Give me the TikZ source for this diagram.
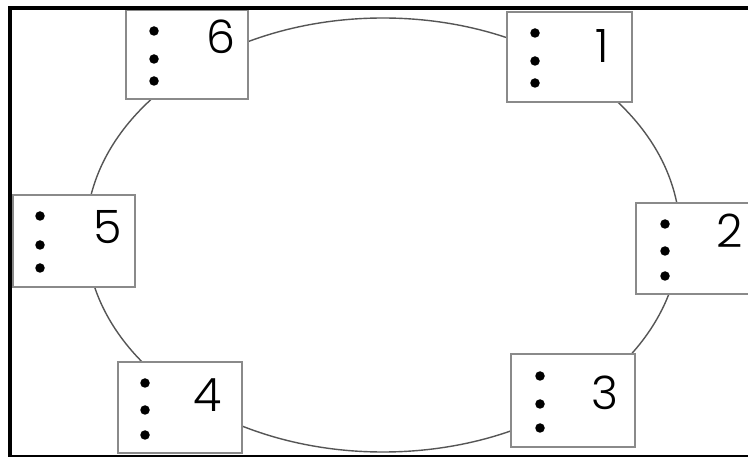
\documentclass[tikz,border=0pt]{standalone}
\usepackage{fontspec}
\newfontfamily\numfont{Poppins}[UprightFont=* Light]
\definecolor{boxgray}{HTML}{8A8A8A}
\definecolor{ringgray}{HTML}{555555}
\tikzset{
  station/.style={draw=boxgray, line width=2pt, fill=white, rectangle, inner sep=0pt},
  dotmark/.style={circle, fill=black, inner sep=0pt, minimum size=9.5pt},
  numlabel/.style={inner sep=0pt, font=\numfont\fontsize{46}{46}\selectfont}
}
\begin{document}
\begin{tikzpicture}[x=1pt,y=-1pt]
\useasboundingbox (0,0) rectangle (748,457);
\clip (0,0) rectangle (748,457);
\fill[white] (0,0) rectangle (748,457);
% ring
\draw[ringgray, line width=1.4pt] (383,235) ellipse [x radius=297, y radius=217];
% stations
\node[station, minimum width=122pt, minimum height=89pt] (s6) at (187,54.5) {};
\node[station, minimum width=125pt, minimum height=90pt] (s1) at (569.5,57) {};
\node[station, minimum width=124pt, minimum height=91pt] (s2) at (698,248.5) {};
\node[station, minimum width=124pt, minimum height=93pt] (s3) at (573,400.5) {};
\node[station, minimum width=124pt, minimum height=91pt] (s4) at (180,407.5) {};
\node[station, minimum width=122pt, minimum height=92pt] (s5) at (74,241) {};
% dots
\foreach \n/\x/\ya/\yb/\yc in {6/154/31/59/81, 1/535/33/61/83, 2/665/224/251/276, 3/540/376/404/428, 4/145/383/410/435, 5/40/216/245/268}{
  \node[dotmark] (d\n a) at (\x,\ya) {};
  \node[dotmark] (d\n b) at (\x,\yb) {};
  \node[dotmark] (d\n c) at (\x,\yc) {};
}
% numbers
\node[numlabel] (n6) at (221,37) {6};
\node[numlabel] (n1) at (602,46) {1};
\node[numlabel] (n2) at (730,231) {2};
\node[numlabel] (n3) at (605,393) {3};
\node[numlabel] (n4) at (208,395) {4};
\node[numlabel] (n5) at (108,227) {5};
% frame
\draw[black, line width=4pt] (10,459) -- (10,8) -- (760,8);
\draw[black, line width=1.5pt] (10,456) -- (760,456);
\end{tikzpicture}
\end{document}
